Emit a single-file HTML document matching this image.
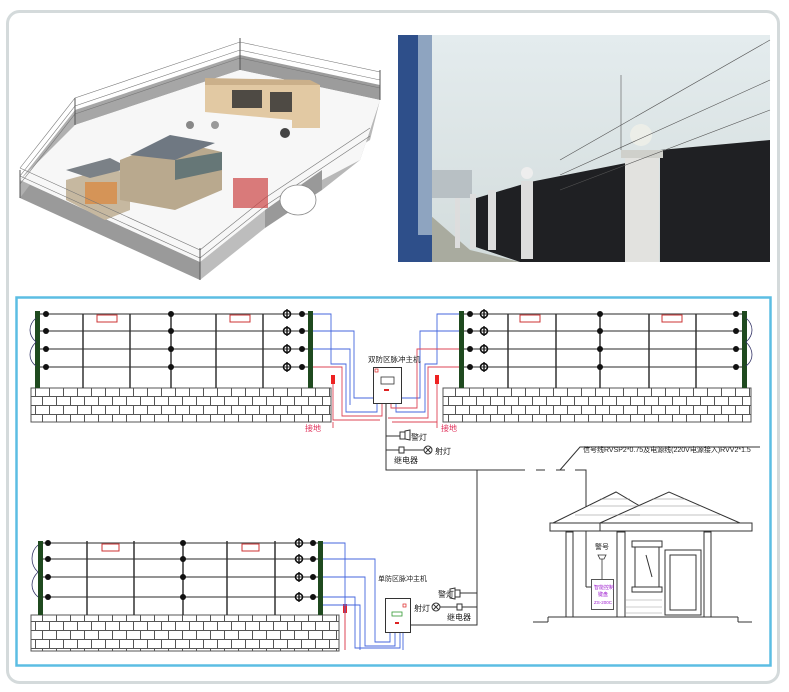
<!DOCTYPE html>
<html><head><meta charset="utf-8">
<style>
html,body{margin:0;padding:0;background:#fff;}
svg{display:block;font-family:"Liberation Sans","Noto Sans CJK SC",sans-serif;}
</style></head>
<body>
<svg width="789" height="692" viewBox="0 0 789 692" xmlns="http://www.w3.org/2000/svg">
<defs>
<pattern id="brick" x="0" y="0" width="14" height="18" patternUnits="userSpaceOnUse">
<rect width="14" height="18" fill="#fff"/>
<path d="M0 0.5H14M0 9.5H14M0.5 0V9M7.5 9V18" stroke="#555" stroke-width="1" fill="none"/>
</pattern>
<linearGradient id="sky" x1="0" y1="0" x2="0" y2="1">
<stop offset="0" stop-color="#e4ecee"/><stop offset="1" stop-color="#d3dcdc"/>
</linearGradient>
<g id="ins"><circle r="3.5" fill="none" stroke="#111" stroke-width="1.6"/><line x1="0" y1="-5" x2="0" y2="5" stroke="#111" stroke-width="1.4"/></g>
</defs>

<rect x="7.5" y="11.5" width="771" height="671" rx="12" fill="#fff" stroke="#d4dadb" stroke-width="3"/>

<!-- left render -->
<g>
<polygon points="20,180 200,262 200,280 20,198" fill="#9a9a9a"/>
<polygon points="200,262 265,210 265,228 200,280" fill="#bdbdbd"/>
<polygon points="20,180 75,110 75,125 20,198" fill="#b0b0b0"/>
<polygon points="75,110 240,55 240,70 75,125" fill="#a6a6a6"/>
<polygon points="240,55 380,85 380,100 240,70" fill="#9c9c9c"/>
<polygon points="380,100 360,160 322,190 322,170 370,140" fill="#b8b8b8"/>
<polygon points="75,125 240,70 380,100 360,160 265,210 200,262 20,180" fill="#f7f7f7"/>
<polygon points="265,210 322,170 322,190 265,228" fill="#999"/>
<polygon points="205,85 320,85 320,128 292,128 292,120 205,112" fill="#e2c9a3"/>
<polygon points="205,78 310,80 320,85 205,85" fill="#cbb08a"/>
<rect x="232" y="90" width="30" height="18" fill="#4e4a44"/>
<rect x="270" y="92" width="22" height="20" fill="#4e4a44"/>
<polygon points="66,180 110,168 130,175 130,210 105,220 66,200" fill="#c6b8a0"/>
<polygon points="66,170 110,158 130,168 90,178" fill="#7b8187"/>
<polygon points="120,160 170,140 222,152 222,190 175,210 120,200" fill="#b9a98e"/>
<polygon points="130,155 170,135 215,143 175,160" fill="#6f7882"/>
<rect x="85" y="182" width="32" height="22" fill="#d59457"/>
<polygon points="175,160 222,152 222,170 175,180" fill="#677"/>
<circle cx="190" cy="125" r="4" fill="#888"/><circle cx="215" cy="125" r="4" fill="#999"/><circle cx="285" cy="133" r="5" fill="#444"/>
<g stroke="#777" stroke-width="0.6" fill="none">
<path d="M20,168 75,98 240,42 380,72 380,88 240,58 75,114 20,184"/>
<path d="M20,176 75,106 240,50 380,80"/>
<path d="M20,168 200,250 265,198 370,128"/>
<path d="M20,176 200,258 265,206 370,136"/>
</g>
<g stroke="#555" stroke-width="1">
<line x1="20" y1="170" x2="20" y2="198"/><line x1="75" y1="98" x2="75" y2="125"/><line x1="240" y1="38" x2="240" y2="70"/><line x1="380" y1="70" x2="380" y2="100"/><line x1="200" y1="248" x2="200" y2="280"/>
</g>
<rect x="233" y="178" width="35" height="30" fill="#c44" opacity="0.7"/>
<ellipse cx="298" cy="200" rx="18" ry="15" fill="#fff" stroke="#888" stroke-width="0.8"/>
</g>

<!-- right photo -->
<rect x="398" y="35" width="372" height="227" fill="url(#sky)"/>
<polygon points="398,262 398,240 430,215 470,250 520,262" fill="#a9ab9f"/>
<rect x="432" y="170" width="40" height="28" fill="#b8c0c4"/>
<polygon points="470,200 530,182 626,163 626,262 520,262 470,245" fill="#1f2023"/>
<polygon points="660,150 770,140 770,262 660,262" fill="#1f2023"/>
<rect x="398" y="35" width="34" height="227" fill="#2e4f8a"/>
<rect x="418" y="35" width="14" height="200" fill="#8ea4c0"/>
<rect x="625" y="155" width="34" height="107" fill="#e2e2df"/>
<rect x="621" y="150" width="42" height="8" fill="#cfd0cb"/>
<circle cx="641" cy="135" r="11" fill="#eceee8"/>
<rect x="521" y="181" width="12" height="78" fill="#ddd"/>
<circle cx="527" cy="173" r="6" fill="#eee"/>
<rect x="488" y="190" width="8" height="60" fill="#ddd"/>
<rect x="470" y="194" width="6" height="55" fill="#ddd"/>
<rect x="455" y="198" width="5" height="50" fill="#ddd"/>
<g stroke="#555" stroke-width="0.6"><line x1="560" y1="160" x2="770" y2="40"/><line x1="560" y1="175" x2="770" y2="80"/><line x1="560" y1="190" x2="770" y2="110"/><line x1="621" y1="75" x2="621" y2="150"/></g>

<rect x="16.5" y="297.5" width="754" height="368" fill="#fff" stroke="#5cbde3" stroke-width="2.5"/>

<!-- TOP LEFT FENCE -->
<g>
<rect x="31" y="388" width="300" height="34" fill="url(#brick)" stroke="#555"/>
<g stroke="#555" stroke-width="1.3">
<line x1="38" y1="314" x2="310" y2="314"/><line x1="38" y1="331" x2="310" y2="331"/><line x1="38" y1="349" x2="310" y2="349"/><line x1="38" y1="367" x2="310" y2="367"/>
</g>
<g stroke="#333" stroke-width="1.5">
<line x1="83" y1="314" x2="83" y2="388"/><line x1="130" y1="314" x2="130" y2="388"/><line x1="171" y1="312" x2="171" y2="388"/><line x1="216" y1="314" x2="216" y2="388"/><line x1="263" y1="314" x2="263" y2="388"/>
</g>
<g fill="#111">
<circle cx="46" cy="314" r="3"/><circle cx="46" cy="331" r="3"/><circle cx="46" cy="349" r="3"/><circle cx="46" cy="367" r="3"/>
<circle cx="171" cy="314" r="3"/><circle cx="171" cy="331" r="3"/><circle cx="171" cy="349" r="3"/><circle cx="171" cy="367" r="3"/>
<circle cx="302" cy="314" r="3"/><circle cx="302" cy="331" r="3"/><circle cx="302" cy="349" r="3"/><circle cx="302" cy="367" r="3"/>
</g>
<use href="#ins" x="287" y="314"/><use href="#ins" x="287" y="331"/><use href="#ins" x="287" y="349"/><use href="#ins" x="287" y="367"/>
<rect x="35" y="311" width="5" height="77" fill="#1f4a1f"/>
<rect x="308" y="311" width="5" height="77" fill="#1f4a1f"/>
<path d="M36,318 C28,325 28,335 36,342 C28,350 28,360 36,366" stroke="#336" fill="none" stroke-width="0.8"/>
<rect x="97" y="315" width="20" height="7" fill="#fff" stroke="#c33"/><rect x="230" y="315" width="20" height="7" fill="#fff" stroke="#c33"/>
<rect x="331" y="375" width="4" height="9" fill="#e22"/>
</g>

<!-- TOP RIGHT FENCE -->
<g>
<rect x="443" y="388" width="308" height="34" fill="url(#brick)" stroke="#555"/>
<g stroke="#555" stroke-width="1.3">
<line x1="461" y1="314" x2="744" y2="314"/><line x1="461" y1="331" x2="744" y2="331"/><line x1="461" y1="349" x2="744" y2="349"/><line x1="461" y1="367" x2="744" y2="367"/>
</g>
<g stroke="#333" stroke-width="1.5">
<line x1="508" y1="314" x2="508" y2="388"/><line x1="556" y1="314" x2="556" y2="388"/><line x1="600" y1="312" x2="600" y2="388"/><line x1="649" y1="314" x2="649" y2="388"/><line x1="696" y1="314" x2="696" y2="388"/>
</g>
<g fill="#111">
<circle cx="470" cy="314" r="3"/><circle cx="470" cy="331" r="3"/><circle cx="470" cy="349" r="3"/><circle cx="470" cy="367" r="3"/>
<circle cx="600" cy="314" r="3"/><circle cx="600" cy="331" r="3"/><circle cx="600" cy="349" r="3"/><circle cx="600" cy="367" r="3"/>
<circle cx="736" cy="314" r="3"/><circle cx="736" cy="331" r="3"/><circle cx="736" cy="349" r="3"/><circle cx="736" cy="367" r="3"/>
</g>
<use href="#ins" x="484" y="314"/><use href="#ins" x="484" y="331"/><use href="#ins" x="484" y="349"/><use href="#ins" x="484" y="367"/>
<rect x="459" y="311" width="5" height="77" fill="#1f4a1f"/>
<rect x="742" y="311" width="5" height="77" fill="#1f4a1f"/>
<path d="M746,318 C754,325 754,335 746,342 C754,350 754,360 746,366" stroke="#336" fill="none" stroke-width="0.8"/>
<rect x="520" y="315" width="20" height="7" fill="#fff" stroke="#c33"/><rect x="662" y="315" width="20" height="7" fill="#fff" stroke="#c33"/>
<rect x="435" y="375" width="4" height="9" fill="#e22"/>
</g>

<g fill="none" stroke-width="0.9">
<g stroke="#4466dd">
<path d="M313,314 H331 V364 H346 V412 H377 V403"/>
<path d="M313,331 H354 V398 H380 V403"/>
<path d="M313,349 H350 V405"/>
<path d="M459,314 H437 V364 H425 V412 H396 V403"/>
<path d="M459,331 H420 V398 H393 V403"/>
</g>
<g stroke="#dd4455">
<path d="M313,367 H342 V416 H382 V403"/>
<path d="M333,384 V420 H380"/>
<path d="M459,349 H417 V408 H391 V403"/>
<path d="M459,367 H428 V418 H388"/>
<path d="M437,384 V422 H392"/>
<path d="M333,422 V428"/><path d="M437,422 V428"/>
</g>
</g>
<rect x="373.5" y="367.5" width="28" height="36" fill="#fff" stroke="#333"/>
<rect x="381" y="377" width="13" height="7" fill="#fff" stroke="#333" stroke-width="0.8"/>
<rect x="384" y="389" width="5" height="2" fill="#d22"/>
<rect x="375" y="369" width="3" height="3" fill="none" stroke="#d22" stroke-width="0.7"/>
<text x="368" y="362" font-size="7.5" fill="#222">双防区脉冲主机</text>
<text x="305" y="431" font-size="8" fill="#e0305a">接地</text>
<text x="441" y="431" font-size="8" fill="#e0305a">接地</text>

<g stroke="#333" fill="none" stroke-width="1">
<path d="M386,403 V470 H525"/>
<line x1="386" y1="436" x2="400" y2="436"/>
<line x1="386" y1="450" x2="399" y2="450"/>
<rect x="400" y="432" width="5" height="7"/>
<rect x="399" y="447" width="5" height="6"/>
<line x1="404" y1="450" x2="424" y2="450"/>
<circle cx="428" cy="450" r="4"/>
<path d="M425,447 L431,453 M431,447 L425,453"/>
<line x1="536" y1="470" x2="545" y2="470"/>
<line x1="556" y1="470" x2="565" y2="470"/>
<path d="M575,470 H586 V587"/>
<path d="M560,470 L580,447 H760"/>
<path d="M477,470 V625 H409"/>
</g>
<path d="M405,431 L410,430 V440 L405,439Z" fill="none" stroke="#333"/>
<text x="411" y="440" font-size="8" fill="#222">警灯</text>
<text x="435" y="454" font-size="8" fill="#222">射灯</text>
<text x="394" y="463" font-size="8" fill="#222">继电器</text>
<text x="583" y="452" font-size="7" fill="#222">信号线RVSP2*0.75及电源线(220V电源接入)RVV2*1.5</text>

<!-- BOTTOM FENCE -->
<g>
<rect x="31" y="615" width="308" height="36" fill="url(#brick)" stroke="#555"/>
<g stroke="#555" stroke-width="1.3">
<line x1="40" y1="543" x2="321" y2="543"/><line x1="40" y1="559" x2="321" y2="559"/><line x1="40" y1="577" x2="321" y2="577"/><line x1="40" y1="597" x2="321" y2="597"/>
</g>
<g stroke="#333" stroke-width="1.5">
<line x1="87" y1="541" x2="87" y2="615"/><line x1="134" y1="541" x2="134" y2="615"/><line x1="183" y1="541" x2="183" y2="615"/><line x1="227" y1="541" x2="227" y2="615"/><line x1="275" y1="541" x2="275" y2="615"/>
</g>
<g fill="#111">
<circle cx="48" cy="543" r="3"/><circle cx="48" cy="559" r="3"/><circle cx="48" cy="577" r="3"/><circle cx="48" cy="597" r="3"/>
<circle cx="183" cy="543" r="3"/><circle cx="183" cy="559" r="3"/><circle cx="183" cy="577" r="3"/><circle cx="183" cy="597" r="3"/>
<circle cx="313" cy="543" r="3"/><circle cx="313" cy="559" r="3"/><circle cx="313" cy="577" r="3"/><circle cx="313" cy="597" r="3"/>
</g>
<use href="#ins" x="299" y="543"/><use href="#ins" x="299" y="559"/><use href="#ins" x="299" y="577"/><use href="#ins" x="299" y="597"/>
<rect x="38" y="541" width="5" height="74" fill="#1f4a1f"/>
<rect x="318" y="541" width="5" height="74" fill="#1f4a1f"/>
<path d="M38,545 C30,552 30,565 38,572 C30,580 30,590 38,597" stroke="#336" fill="none" stroke-width="0.8"/>
<rect x="102" y="544" width="17" height="7" fill="#fff" stroke="#c33"/><rect x="242" y="544" width="17" height="7" fill="#fff" stroke="#c33"/>
<rect x="343" y="604" width="4" height="9" fill="#e22"/>
</g>
<g fill="none" stroke-width="0.9" stroke="#4466dd">
<path d="M323,543 H345 V650"/>
<path d="M323,559 H375 V642 H390 V632"/>
<path d="M323,577 H365 V646 H395 V632"/>
<path d="M323,597 H355 V648 H400 V632"/>
<path d="M323,605 H360 V650"/>
<path d="M403,632 V650"/>
</g>
<path d="M345,613 V650" stroke="#dd4455" stroke-width="1"/>
<rect x="385.5" y="598.5" width="25" height="34" fill="#fff" stroke="#333"/>
<rect x="392" y="612" width="10" height="4" fill="#fff" stroke="#393" stroke-width="0.8"/>
<rect x="395" y="622" width="4" height="2" fill="#d22"/>
<rect x="403" y="604" width="3" height="3" fill="none" stroke="#d22" stroke-width="0.7"/>
<text x="378" y="581" font-size="7" fill="#222">单防区脉冲主机</text>
<g stroke="#333" fill="none" stroke-width="1">
<line x1="460" y1="593" x2="477" y2="593"/>
<rect x="455" y="590" width="5" height="7"/>
<line x1="440" y1="607" x2="457" y2="607"/>
<rect x="457" y="604" width="5" height="6"/>
<line x1="462" y1="607" x2="477" y2="607"/>
<circle cx="436" cy="607" r="4"/>
<path d="M433,604 L439,610 M439,604 L433,610"/>
</g>
<path d="M455,588 L450,589 V598 L455,599Z" fill="none" stroke="#333"/>
<text x="438" y="597" font-size="8" fill="#222">警灯</text>
<text x="414" y="611" font-size="8" fill="#222">射灯</text>
<text x="447" y="620" font-size="8" fill="#222">继电器</text>

<!-- HOUSE -->
<g stroke="#333" fill="#fff" stroke-width="1">
<polygon points="553,523 616,492 655,515 640,523"/>
<polygon points="600,523 669,492 740,523"/>
<rect x="550" y="523" width="96" height="8"/>
<rect x="600" y="523" width="152" height="8"/>
<g stroke="#888" stroke-width="0.6">
<line x1="575" y1="515" x2="640" y2="515"/><line x1="590" y1="506" x2="640" y2="506"/><line x1="600" y1="499" x2="630" y2="499"/>
<line x1="625" y1="515" x2="720" y2="515"/><line x1="640" y1="506" x2="700" y2="506"/><line x1="652" y1="499" x2="685" y2="499"/>
</g>
<rect x="566" y="532" width="7" height="85"/>
<rect x="617" y="532" width="8" height="85"/>
<rect x="704" y="532" width="7" height="85"/>
<rect x="632" y="541" width="30" height="6"/>
<rect x="635" y="547" width="24" height="40"/>
<rect x="632" y="587" width="30" height="5"/>
<rect x="665" y="550" width="36" height="65"/>
<rect x="670" y="555" width="26" height="55"/>
<line x1="646" y1="555" x2="652" y2="577"/>
<line x1="533" y1="622" x2="548" y2="622"/><line x1="548" y1="622" x2="548" y2="617"/><line x1="548" y1="617" x2="738" y2="617"/><line x1="738" y1="617" x2="738" y2="622"/><line x1="738" y1="622" x2="752" y2="622"/>
<g stroke="#999" stroke-width="0.6"><line x1="626" y1="600" x2="662" y2="600"/><line x1="626" y1="607" x2="662" y2="607"/><line x1="626" y1="613" x2="662" y2="613"/></g>
</g>
<path d="M586,587 H593" stroke="#333" fill="none"/>
<text x="595" y="549" font-size="7" fill="#222">警号</text>
<path d="M598,555 h8 l-2,4 h-4z M602,559 v20" stroke="#333" fill="none" stroke-width="0.8"/>
<rect x="591.5" y="579.5" width="22" height="30" fill="#fff" stroke="#555"/>
<text x="594" y="589" font-size="5" fill="#a020d0">智能控制</text>
<text x="598" y="596" font-size="5" fill="#a020d0">键盘</text>
<text x="594" y="604" font-size="4.5" fill="#a020d0">ZS-200C</text>
</svg>
</body></html>
